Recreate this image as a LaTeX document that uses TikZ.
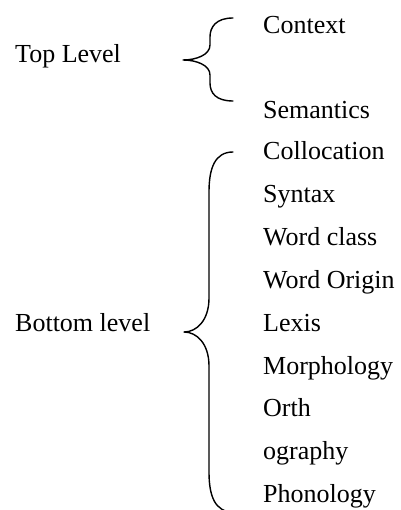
\documentclass[tikz,border=0pt]{standalone}
\usepackage{fontspec}
\setmainfont{Liberation Serif}
\begin{document}
\begin{tikzpicture}[x=1pt,y=-1pt,
  lbl/.style={anchor=base west,inner sep=0pt,font=\fontsize{26}{30}\selectfont},
  brace/.style={line width=1.4pt,line cap=round,line join=round}]
\useasboundingbox (0,0) rectangle (400,510);
\clip (0,0) rectangle (400,510);
% left labels
\node[lbl] (top) at (15,62.3) {Top Level};
\node[lbl] (bot) at (15,331.5) {Bottom level};
% right labels
\node[lbl] (ctx) at (263,33.3) {Context};
\node[lbl] (sem) at (263,118.3) {Semantics};
\node[lbl] (col) at (263,160) {Collocation};
\node[lbl] (syn) at (263,202.8) {Syntax};
\node[lbl] (wcl) at (263,245.6) {Word class};
\node[lbl] (wor) at (263,288.4) {Word Origin};
\node[lbl] (lex) at (263,331.4) {Lexis};
\node[lbl] (mor) at (263,374) {Morphology};
\node[lbl] (ort) at (263,416.8) {Orth};
\node[lbl] (ogr) at (263,459.6) {ography};
\node[lbl] (pho) at (263,502.4) {Phonology};
% top brace
\coordinate (t1) at (233,18);
\coordinate (tt) at (183,60);
\coordinate (t2) at (233,101);
\draw[brace] (t1) .. controls (216,18) and (210,27) .. (210,37) -- (210,45)
  .. controls (210,55) and (196,60) .. (tt)
  .. controls (196,60) and (210,65) .. (210,75) -- (210,83)
  .. controls (210,93) and (216,101) .. (t2);
% bottom brace
\coordinate (b1) at (233,152);
\coordinate (bt) at (184,332);
\coordinate (b2) at (233,512);
\draw[brace] (b1) .. controls (215,152) and (209,168) .. (209,192) -- (209,298)
  .. controls (209,320) and (197,332) .. (bt)
  .. controls (197,332) and (209,344) .. (209,366) -- (209,472)
  .. controls (209,496) and (215,512) .. (b2);
\end{tikzpicture}
\end{document}
